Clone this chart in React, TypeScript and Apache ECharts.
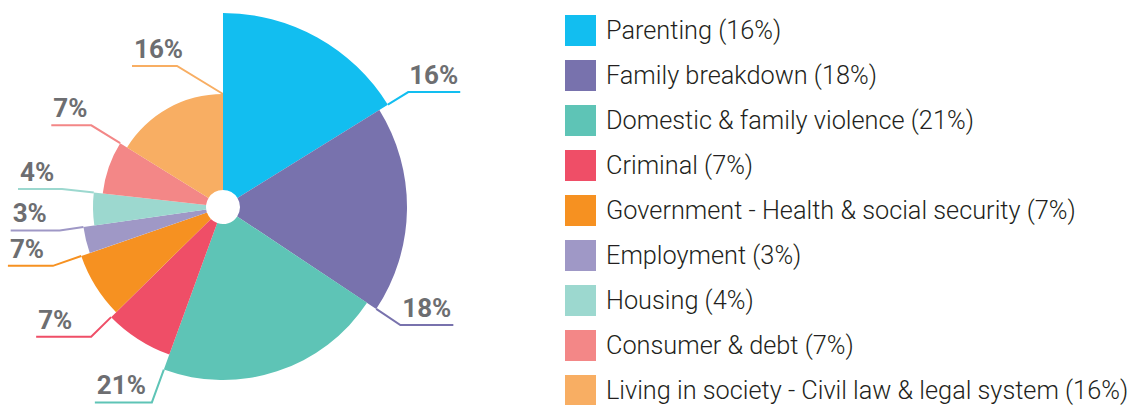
import React, { useEffect, useRef } from "react";
import * as echarts from "echarts";

// ---- data ----
const categories = [
  "Parenting",
  "Family breakdown",
  "Domestic & family violence",
  "Criminal",
  "Government - Health & social security",
  "Employment",
  "Housing",
  "Consumer & debt",
  "Living in society - Civil law & legal system",
];
const shares = [16, 18, 21, 7, 7, 3, 4, 7, 16];

// ---- styles / layout ----
const colors = [
  "#12BEF0",
  "#7872AD",
  "#5EC4B6",
  "#EF4E67",
  "#F69121",
  "#9F98C6",
  "#9CD8CF",
  "#F38787",
  "#F8AE63",
];
const CENTER: [number, number] = [223, 207];
const INNER_R = 17;
const OUTER_R = [194, 184, 173, 157, 150, 141, 130, 121, 113];
const LINE_LEN = [24, 29, 35, 28, 30, 24, 32, 34, 28];
const LINE_TAIL = [52, 53, 57, 55, 45, 49, 44, 40, 45];
const ELBOW_SHIFT: Record<number, [number, number]> = { 8: [-46, 0] };
const LABEL_COLOR = "#6d6e71";

function buildOption() {
  const total = shares.reduce((a, b) => a + b, 0);
  let cum = 0;
  const series = shares.map((v, i) => {
    const startAngle = 90 - (cum / total) * 360;
    cum += v;
    return {
      type: "pie",
      name: "slice" + i,
      center: CENTER,
      radius: [INNER_R, OUTER_R[i]],
      startAngle,
      clockwise: true,
      avoidLabelOverlap: false,
      silent: true,
      emphasis: { disabled: true },
      label: { show: false },
      labelLine: { show: false },
      data: [
        { name: categories[i], value: v, itemStyle: { color: colors[i] } },
        {
          name: categories[i] + " label",
          value: 0,
          itemStyle: { color: colors[i] },
          label: {
            show: true,
            position: "outside",
            formatter: v + "%",
            fontFamily: "Roboto",
            fontWeight: "bold",
            fontSize: 26,
            color: LABEL_COLOR,
          },
          labelLine: {
            show: true,
            length: LINE_LEN[i],
            length2: LINE_TAIL[i],
            smooth: false,
            lineStyle: { color: colors[i], width: 2 },
          },
        },
        {
          name: "",
          value: total - v,
          itemStyle: { color: "rgba(0,0,0,0)" },
          label: { show: false },
          labelLine: { show: false },
        },
      ],
      labelLayout: (params: any) => {
        const pts = params.labelLinePoints;
        if (!pts || params.dataIndex !== 1) return {};
        const shift = ELBOW_SHIFT[i] || [0, 0];
        const s = pts[0];
        const ex = pts[1][0] + shift[0];
        const ey = pts[1][1] + shift[1];
        const left = ex < CENTER[0];
        const endX = left ? ex - LINE_TAIL[i] : ex + LINE_TAIL[i];
        return {
          x: left ? endX + 2 : endX - 2,
          y: ey - 4,
          align: left ? "left" : "right",
          verticalAlign: "bottom",
          labelLinePoints: [
            [s[0], s[1]],
            [ex, ey],
            [endX, ey],
          ],
        };
      },
    };
  });

  return {
    animation: false,
    backgroundColor: "#ffffff",
    legend: {
      orient: "vertical",
      left: 565,
      top: 15,
      height: 400,
      padding: 0,
      itemWidth: 31,
      itemHeight: 31,
      itemGap: 14,
      selectedMode: false,
      icon: "rect",
      data: categories,
      formatter: (name: string) => `${name} (${shares[categories.indexOf(name)]}%)`,
      textStyle: {
        fontFamily: "Roboto",
        fontWeight: 300,
        fontSize: 25.3,
        color: "#231f20",
        padding: [0, 0, 0, 5],
      },
    },
    series,
  };
}

export default function App() {
  const ref = useRef<HTMLDivElement>(null);
  useEffect(() => {
    document.body.style.margin = "0";
    const chart = echarts.init(ref.current!, undefined, { renderer: "svg" });
    chart.setOption(buildOption() as any);
    return () => chart.dispose();
  }, []);
  return <div ref={ref} style={{ width: 1129, height: 405 }} />;
}
